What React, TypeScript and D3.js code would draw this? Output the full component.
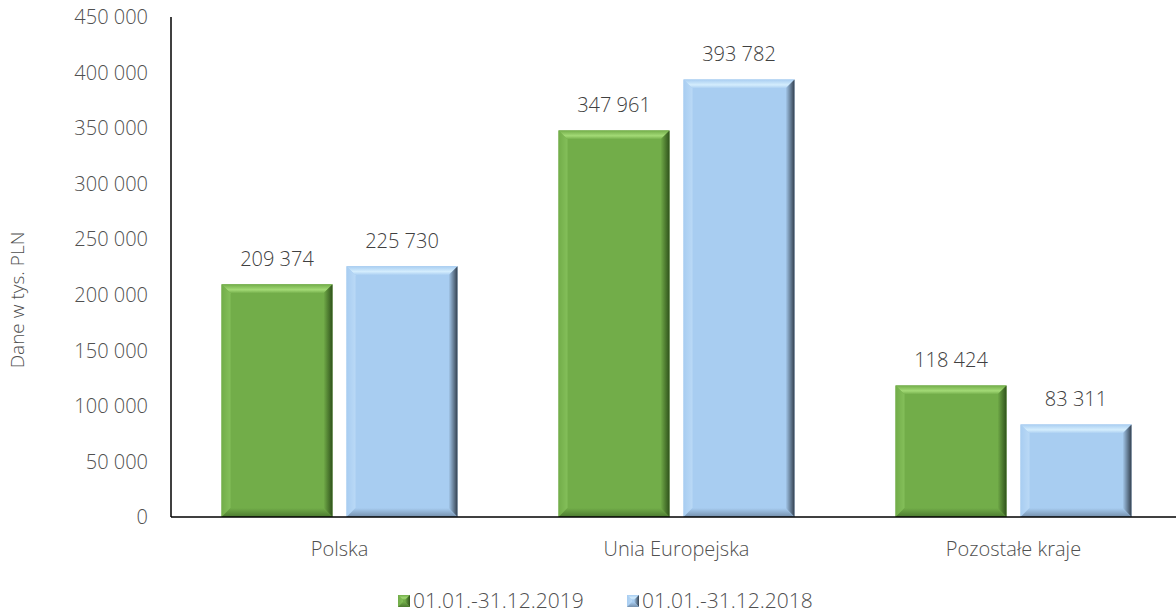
import React from "react";
import * as d3 from "d3";

const categories = ["Polska", "Unia Europejska", "Pozostałe kraje"];
const seriesNames = ["01.01.-31.12.2019", "01.01.-31.12.2018"];
const values2019 = [209374, 347961, 118424];
const values2018 = [225730, 393782, 83311];
const yTicks = [0, 50000, 100000, 150000, 200000, 250000, 300000, 350000, 400000, 450000];

const W = 1176, H = 614;
const left = 171, right = 1182, top = 17, bottom = 517;

const palettes = [
  { id: "g", main: "#72ad49", top: "#a3da76", left: "#84bf5a", right: "#2f521b", bottom: "#4c7a30" },
  { id: "b", main: "#a8cdf1", top: "#d4edfd", left: "#bad9f6", right: "#33404f", bottom: "#7590ad" },
];

const fmt = (v: number) => d3.format(",")(v).replace(/,/g, " ");

function Defs() {
  return (
    <defs>
      {palettes.map((p) => (
        <g key={p.id}>
          <linearGradient id={`${p.id}-top`} x1="0" y1="0" x2="0" y2="1">
            <stop offset="0" stopColor={p.main} />
            <stop offset="0.6" stopColor={p.top} />
            <stop offset="1" stopColor={p.main} />
          </linearGradient>
          <linearGradient id={`${p.id}-right`} x1="0" y1="0" x2="1" y2="0">
            <stop offset="0" stopColor={p.main} />
            <stop offset="1" stopColor={p.right} />
          </linearGradient>
          <linearGradient id={`${p.id}-bottom`} x1="0" y1="0" x2="0" y2="1">
            <stop offset="0" stopColor={p.main} />
            <stop offset="1" stopColor={p.bottom} />
          </linearGradient>
          <linearGradient id={`${p.id}-left`} x1="0" y1="0" x2="1" y2="0">
            <stop offset="0" stopColor={p.main} />
            <stop offset="1" stopColor={p.left} />
          </linearGradient>
        </g>
      ))}
    </defs>
  );
}

function BevelBar({ x, y, w, h, p, b0 = 9 }: { x: number; y: number; w: number; h: number; p: typeof palettes[0]; b0?: number }) {
  const b = Math.min(b0, h / 2);
  const x2 = x + w, y2 = y + h;
  return (
    <g>
      <rect x={x} y={y} width={w} height={h} fill={p.main} />
      <polygon points={`${x},${y} ${x2},${y} ${x2 - b},${y + b} ${x + b},${y + b}`} fill={`url(#${p.id}-top)`} />
      <polygon points={`${x},${y} ${x + b},${y + b} ${x + b},${y2 - b} ${x},${y2}`} fill={`url(#${p.id}-left)`} />
      <polygon points={`${x2},${y} ${x2},${y2} ${x2 - b},${y2 - b} ${x2 - b},${y + b}`} fill={`url(#${p.id}-right)`} />
      <polygon points={`${x},${y2} ${x + b},${y2 - b} ${x2 - b},${y2 - b} ${x2},${y2}`} fill={`url(#${p.id}-bottom)`} />
    </g>
  );
}

export default function App() {
  const x0 = d3.scaleBand<string>().domain(categories).range([left, right]);
  const x1 = d3.scaleBand<number>().domain([0, 1]).range([0, 236]).paddingInner(0.112);
  const y = d3.scaleLinear().domain([0, 450000]).range([bottom, top]);
  const series = [values2019, values2018];
  const font = "'Open Sans', 'Noto Sans', sans-serif";
  return (
    <div style={{ position: "absolute", left: 0, top: 0 }}>
      <svg width={W} height={H} style={{ display: "block", fontFamily: font }}>
        <Defs />
        <rect width={W} height={H} fill="#fff" />
        {yTicks.map((t) => (
          <text key={t} x={148} y={y(t)} dy="0.36em" textAnchor="end" fontSize={20} fill="#505050" fontWeight={300}>
            {fmt(t)}
          </text>
        ))}
        <text transform={`translate(24,${300}) rotate(-90)`} textAnchor="middle" fontSize={19} fill="#505050" fontWeight={300}>
          Dane w tys. PLN
        </text>
        {categories.map((c, ci) => {
          const cx = x0(c)! + x0.bandwidth() / 2;
          const gx = cx - 118;
          return (
            <g key={c}>
              {series.map((vals, si) => {
                const bx = gx + x1(si)!;
                const bw = x1.bandwidth();
                const by = y(vals[ci]);
                return (
                  <g key={si}>
                    <BevelBar x={bx} y={by} w={bw} h={bottom - by} p={palettes[si]} />
                    <text x={bx + bw / 2} y={by - 18} textAnchor="middle" fontSize={20} fill="#404040" fontWeight={300}>
                      {fmt(vals[ci])}
                    </text>
                  </g>
                );
              })}
              <text x={cx} y={556} textAnchor="middle" fontSize={20} fill="#505050" fontWeight={300}>
                {c}
              </text>
            </g>
          );
        })}
        <line x1={left} x2={W} y1={bottom} y2={bottom} stroke="#000" strokeWidth={1.5} />
        <line x1={left} x2={left} y1={top} y2={bottom} stroke="#000" strokeWidth={1.5} />
        {seriesNames.map((n, i) => {
          const lx = i === 0 ? 398 : 627;
          const p = palettes[i];
          return (
            <g key={n}>
              <BevelBar x={lx} y={595} w={12} h={12} p={p} b0={5} />
              <text x={lx + 15} y={608} fontSize={21} fill="#505050" fontWeight={300}>
                {n}
              </text>
            </g>
          );
        })}
      </svg>
    </div>
  );
}
